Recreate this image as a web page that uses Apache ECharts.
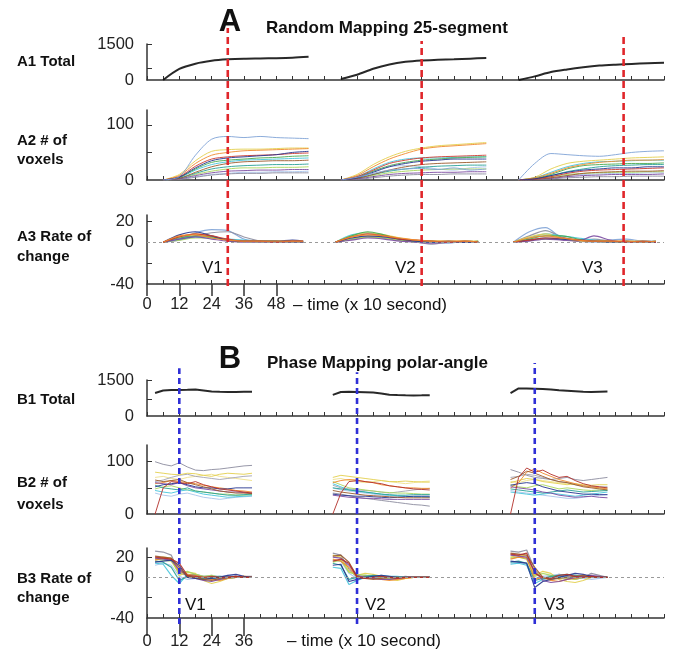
<!DOCTYPE html>
<html><head><meta charset="utf-8">
<script src="https://cdn.jsdelivr.net/npm/echarts@6/dist/echarts.min.js"></script>
<style>html,body{margin:0;padding:0;background:#fff}#c{width:681px;height:650px}</style>
</head><body><div id="c"></div>
<script>
// ---------- time bases (x 10 s) ----------
const aTimes = [[6,12,18,24,30,36,42,48,54,60],[72,78,84,90,96,102,108,114,120,126],[138,144,150,156,162,168,174,180,186,192]];
const aRateTimes = [[6,12,18,24,30,36,42,48,54,58],[70,76,82,88,94,100,106,112,118,123],[136,142,148,154,160,166,172,178,184,189]];
const bTimes = [[3,6,9,12,15,18,21,24,27,30,33,36,39],[69,72,75,78,81,84,87,90,93,96,99,102,105],[135,138,141,144,147,150,153,156,159,162,165,168,171]];

// ---------- tick labels ----------
const xTickLabelsA = [0,12,24,36,48];
const xTickLabelsB = [0,12,24,36];
const yLabelsTotal = [0,1500];
const yTicksA1 = [500,1500];
const yTicksB1 = [700,1500];
const yLabelsVox = [0,100];
const yTicksVox = [50,100];
const yLabelsRate = [-40,0,20];
const yTicksRate = [-20,20];

// ---------- visual area markers ----------
const vLinesA = [30,102,177];
const vTopsA = [1,0.95,0.98];
const vLinesB = [12,78,144];
const vTopsB = [0.98,0.965,1];

// ---------- A1 total ----------
const a1Total = [0,460,680,800,860,890,900,910,930,970, 40,220,470,650,760,815,840,860,890,915, 0,150,330,440,530,600,640,670,695,715];

// ---------- A2 # of voxels ----------
const a2Steel  = [0,6,45,74,79,77,79,77,76,75, 0,5,12,18,20,21,19,22,18,20, 0,30,48,46,44,43,46,50,52,53];
const a2Yellow = [0,10,35,52,55,56,56,57,58,58, 0,10,28,42,52,58,62,64,66,68, 0,5,20,30,34,36,38,40,41,42];
const a2Orange = [0,8,30,45,50,53,54,55,56,57, 0,8,24,38,48,56,60,62,64,66, 0,4,12,22,28,32,34,36,36,37];
const a2Navy   = [0,5,22,35,40,42,44,46,50,52, 0,4,14,24,30,34,36,38,38,38, 0,2,8,14,18,20,22,22,24,24];
const a2Red    = [0,6,25,38,42,44,45,46,48,49, 0,6,18,30,36,40,42,43,44,45, 0,2,6,12,16,18,19,20,21,22];
const a2Green  = [0,5,20,32,36,38,40,41,43,44, 0,5,16,26,32,36,38,40,41,42, 0,3,10,20,26,28,29,30,30,31];
const a2Cyan   = [0,4,18,28,33,36,37,38,39,40, 0,6,20,32,38,40,40,41,42,42, 0,4,14,24,30,33,34,35,36,36];
const a2Brown  = [0,3,14,24,30,33,34,35,35,36, 0,3,10,18,24,28,30,31,32,33, 0,1,4,8,12,14,15,16,16,17];
const a2Teal   = [0,3,12,20,24,26,27,28,28,29, 0,3,10,16,20,23,25,26,27,27, 0,2,8,15,20,24,26,27,28,28];
const a2Lime   = [0,2,10,16,20,22,22,23,23,24, 0,2,8,13,16,18,19,20,20,20, 0,2,6,10,12,13,14,14,15,15];
const a2Purple = [0,2,8,13,16,17,18,18,19,19, 0,2,6,10,12,13,14,14,15,15, 0,1,3,6,8,9,10,10,10,11];
const a2Gray   = [0,1,5,9,11,12,12,13,13,13, 0,1,4,7,9,10,10,11,11,11, 0,1,2,4,5,6,6,7,7,7];
const a2Sky    = [0,2,6,10,12,14,14,15,15,16, 0,4,16,24,26,24,20,18,22,24, 0,1,4,8,10,11,12,12,13,13];

// ---------- A3 rate of change ----------
const a3Steel  = [0,3,9,12,11,3,1,1,0,1, 0,3,5,4,2,1,0,-1,1,0, 0,10,14,4,1,0,2,3,1,1];
const a3Yellow = [0,5,8,6,2,1,1,1,1,0, 0,6,9,7,4,2,1,1,1,1, 0,5,8,4,1,1,1,1,1,0];
const a3Orange = [0,6,7,4,2,1,1,1,1,1, 0,5,7,6,4,2,1,1,1,0, 0,4,6,4,2,1,1,1,0,1];
const a3Navy   = [0,7,10,6,2,1,1,1,2,1, 0,4,6,5,3,1,0,1,0,0, 0,2,4,3,2,1,0,1,0,0];
const a3Red    = [0,5,8,6,3,1,1,0,1,1, 0,5,8,6,3,2,1,0,1,0, 0,2,4,4,2,1,1,0,1,0];
const a3Green  = [0,4,6,5,2,1,1,1,0,0, 0,6,10,7,3,1,1,0,0,1, 0,3,6,6,3,1,1,0,0,1];
const a3Cyan   = [0,3,5,4,3,2,1,0,1,0, 0,7,9,6,3,1,0,0,1,0, 0,4,8,6,4,2,1,0,1,0];
const a3Gray   = [0,2,6,9,10,5,1,0,0,0, 0,3,5,4,2,0,-2,0,0,0, 0,6,11,5,2,3,1,0,0,0];
const a3Lime   = [0,2,4,4,3,1,0,0,0,0, 0,3,5,4,2,1,0,0,0,0, 0,2,3,3,2,1,0,0,0,0];
const a3Purple = [0,3,5,3,1,0,0,0,0,0, 0,2,4,3,1,0,-1,0,0,0, 0,1,3,2,1,6,2,0,0,0];

// ---------- B1 total ----------
const b1Total = [960,1060,1080,1085,1090,1100,1060,1020,1010,1005,1005,1010,1010,
                 880,1000,1010,1000,990,975,940,890,870,862,858,860,865,
                 950,1150,1150,1140,1125,1100,1070,1050,1030,1010,1005,1015,1025];

// ---------- B2 # of voxels ----------
const b2Gray   = [100,95,92,98,90,84,83,85,86,88,90,92,93, 40,38,35,32,30,28,26,24,22,20,18,17,15, 85,80,74,70,68,66,68,70,66,64,66,68,70];
const b2Yellow = [80,78,76,75,78,77,74,72,76,78,77,76,78, 70,74,72,70,68,66,64,62,62,63,62,61,61, 60,64,68,66,62,60,58,56,58,56,55,56,56];
const b2Gray2  = [62,65,70,74,76,72,70,68,66,68,70,72,73, 55,50,48,46,45,44,42,40,42,44,46,48,49, 70,72,76,74,70,66,62,60,56,54,52,52,52];
const b2Cream  = [70,72,68,66,70,72,74,76,72,70,68,66,64, 66,68,64,62,60,62,64,62,60,58,60,62,63, 62,60,64,66,64,62,60,58,56,54,52,50,50];
const b2Red    = [0,50,62,60,58,62,56,52,48,46,44,42,40, 0,40,62,64,62,60,58,54,52,50,48,47,46, 0,70,88,80,84,76,70,72,64,58,54,52,50];
const b2Orange = [58,60,64,62,60,58,55,52,50,48,45,44,42, 60,64,66,65,62,60,56,54,52,50,50,49,49, 50,60,80,86,78,72,66,62,58,54,52,50,48];
const b2Navy   = [52,56,58,60,56,52,50,50,48,48,50,50,50, 38,36,35,34,34,33,32,31,32,33,34,34,34, 55,58,60,58,52,48,44,42,40,38,38,37,37];
const b2Cyan   = [45,42,40,44,46,42,38,36,34,32,33,34,35, 58,52,46,44,42,40,38,36,35,34,33,33,32, 42,40,38,36,38,40,38,36,34,36,38,40,42];
const b2Teal   = [55,50,48,46,50,44,42,40,38,36,36,37,38, 50,48,46,44,42,40,38,37,36,36,37,37,37, 48,46,44,42,40,42,44,46,44,42,43,44,45];
const b2Lime   = [48,52,54,50,46,44,42,40,38,38,36,36,37, 62,56,50,48,46,44,42,41,40,40,39,38,38, 56,52,50,54,56,52,48,50,48,46,45,46,46];
const b2Purple = [60,58,56,60,54,50,48,46,44,42,42,41,40, 36,34,32,31,30,30,29,28,28,28,28,28,28, 52,50,48,46,42,40,36,34,32,33,34,32,31];
const b2Brown  = [65,62,64,66,60,56,52,48,44,42,40,40,39, 45,42,40,38,36,35,34,33,32,31,31,31,31, 66,72,82,78,72,66,62,60,56,52,50,48,46];
const b2Sky    = [40,36,34,38,40,36,32,30,28,30,32,33,34, 50,46,44,42,40,38,36,35,34,34,33,33,33, 45,42,40,38,36,34,32,30,30,32,34,36,37];

// ---------- B3 rate of change ----------
const b3Gray   = [26,25,22,4,2,3,1,-1,0,1,0,1,1, 24,22,8,0,2,1,0,-1,0,1,0,0,0, 26,25,27,8,-2,0,3,1,-2,0,4,2,0];
const b3Yellow = [18,20,19,2,5,4,-3,-6,-4,-1,0,1,0, 22,20,6,2,4,3,1,-2,-3,-1,0,0,0, 20,22,21,2,6,4,-2,-4,-5,-3,0,1,0];
const b3Orange = [17,19,18,6,3,2,0,-2,-3,-1,0,1,0, 18,16,10,1,0,-1,-2,-3,-2,-1,0,0,0, 18,20,19,-2,0,-3,-4,-2,-1,0,1,0,0];
const b3Red    = [20,19,18,14,2,1,0,1,0,0,1,0,0, 16,18,14,0,-1,0,1,0,-1,0,0,0,0, 23,22,24,4,0,-1,2,3,1,0,1,0,0];
const b3Navy   = [15,16,17,12,0,-1,-2,-1,0,2,3,1,0, 12,13,-4,-2,0,1,2,1,0,0,0,0,0, 16,15,14,-10,-4,-2,0,2,4,3,1,0,0];
const b3Cyan   = [14,13,2,-6,3,2,0,-1,-2,-1,0,0,0, 10,9,-7,-3,0,1,2,1,1,0,0,0,0, 13,14,12,-6,-2,0,1,0,-1,0,1,0,0];
const b3Teal   = [16,15,10,-3,1,0,-1,0,1,0,0,0,0, 14,12,-2,0,1,2,1,0,0,0,0,0,0, 15,16,14,-3,-1,1,2,3,2,1,0,0,0];
const b3Lime   = [18,17,16,4,6,3,1,2,0,-1,0,0,0, 15,17,5,3,2,1,0,-1,-1,0,0,0,0, 19,20,18,1,4,2,0,-1,-2,0,1,0,0];
const b3Purple = [19,18,17,8,1,-1,-3,-4,-2,0,1,0,0, 20,19,12,2,0,-1,-2,-2,-1,0,0,0,0, 22,21,20,6,-3,-5,-4,-2,0,1,2,1,0];
const b3Brown  = [21,20,19,10,1,0,-2,-3,-1,0,1,0,0, 21,22,15,1,-1,-2,-1,0,0,0,0,0,0, 24,23,22,10,0,-2,-1,0,1,2,0,0,0];
const b3Sky    = [12,14,12,1,-2,-1,1,2,1,2,1,0,0, 17,16,4,-1,1,2,0,-1,0,0,0,0,0, 14,15,13,-1,1,2,3,2,0,-1,-2,-1,0];

// ---------- styles ----------
const FONT = "'Liberation Sans', Arial, Helvetica, sans-serif";
const C = {steel:'#7fa3d6', yellow:'#e3cf4e', orange:'#ef8a2c', navy:'#26348f', red:'#cc3a2f', green:'#4aa84e',
  cyan:'#45c4dc', brown:'#9a5a2c', teal:'#27a096', lime:'#a8d65c', purple:'#7b4aa1', gray:'#8c8c9e', sky:'#a9c4ea',
  gray2:'#a3a3b3', cream:'#eee08c'};

function build(times, vals){
  const out=[]; let k=0;
  times.forEach((t,si)=>{ if(si>0) out.push([t[0]-3,null]); t.forEach(x=>out.push([x, vals[k++]])); });
  return out;
}

const grids = [
  {left:147, width:517, top:44, height:36},   // A1
  {left:147, width:517, top:110, height:70},  // A2
  {left:147, width:517, top:215, height:69},  // A3
  {left:147, width:517, top:380, height:36},  // B1
  {left:147, width:517, top:445, height:69},  // B2
  {left:147, width:517, top:548, height:70},  // B3
  {left:147, width:517, top:28, height:258},  // overlay A
  {left:147, width:517, top:363, height:261}  // overlay B
];

const axisCol = '#333';
const plain = v => String(v);
const xAxes = [];
for (let g=0; g<6; g++) {
  xAxes.push({type:'value', gridIndex:g, min:0, max:192, interval:6,
    axisLine:{show:true, onZero:false, lineStyle:{color:axisCol, width:1.5}},
    axisTick:{show:true, inside:true, length:4, lineStyle:{color:axisCol, width:1}},
    axisLabel:{show:false}, splitLine:{show:false}});
}
function bottomAxis(g, labels, len, margin){
  return {type:'value', gridIndex:g, min:0, max:192, position:'bottom',
    axisLine:{show:false, onZero:false},
    axisTick:{show:true, inside:false, length:len, customValues:labels, lineStyle:{color:axisCol, width:1.5}},
    axisLabel:{show:true, customValues:labels, margin:margin, formatter:plain, fontFamily:FONT, fontSize:16.5, color:'#222'},
    splitLine:{show:false}};
}
xAxes.push(bottomAxis(2, xTickLabelsA, 12, 12));   // 6
xAxes.push(bottomAxis(5, xTickLabelsB, 18, 15));   // 7
xAxes.push({type:'value', gridIndex:6, min:0, max:192, show:false}); // 8
xAxes.push({type:'value', gridIndex:7, min:0, max:192, show:false}); // 9

function yAx(g, min, max, labels, ticks){
  return {type:'value', gridIndex:g, min:min, max:max,
    axisLine:{show:true, onZero:false, lineStyle:{color:axisCol, width:1.5}},
    axisTick:{show:true, inside:true, length:5, customValues:ticks, lineStyle:{color:axisCol, width:1}},
    axisLabel:{show:true, customValues:labels, margin:13, formatter:plain, fontFamily:FONT, fontSize:16.5, color:'#222'},
    splitLine:{show:false}};
}
const yAxes = [
  yAx(0, 0, 1500, yLabelsTotal, yTicksA1),
  yAx(1, 0, 127, yLabelsVox, yTicksVox),
  yAx(2, -40, 26, yLabelsRate, yTicksRate),
  yAx(3, 0, 1500, yLabelsTotal, yTicksB1),
  yAx(4, 0, 132, yLabelsVox, yTicksVox),
  yAx(5, -40, 29, yLabelsRate, yTicksRate),
  {type:'value', gridIndex:6, min:0, max:1, show:false},
  {type:'value', gridIndex:7, min:0, max:1, show:false}
];

const series = [];
function addLine(ax, times, vals, color, width, smooth, extra){
  series.push(Object.assign({type:'line', xAxisIndex:ax, yAxisIndex:ax, data:build(times, vals),
    symbol:'none', smooth:smooth, connectNulls:false, silent:true,
    lineStyle:{color:color, width:width, opacity:0.9}, z:2}, extra||{}));
}
const zeroLine = {markLine:{silent:true, symbol:'none', label:{show:false},
  lineStyle:{color:'#9a9a9a', type:[3,3], width:1}, data:[{yAxis:0}]}};

// A1
addLine(0, aTimes, a1Total, '#111', 2, 0.3);
// A2
[[a2Sky,C.sky],[a2Lime,C.lime],[a2Gray,C.gray],[a2Yellow,C.yellow],[a2Cyan,C.cyan],[a2Teal,C.teal],[a2Green,C.green],
 [a2Orange,C.orange],[a2Purple,C.purple],[a2Brown,C.brown],[a2Red,C.red],[a2Navy,C.navy],[a2Steel,C.steel]]
 .forEach(p=>addLine(1, aTimes, p[0], p[1], 1, 0.3));
// A3
[[a3Steel,C.steel],[a3Gray,C.gray],[a3Lime,C.lime],[a3Cyan,C.cyan],[a3Yellow,C.yellow],[a3Green,C.green],
 [a3Purple,C.purple],[a3Navy,C.navy],[a3Red,C.red],[a3Orange,C.orange]]
 .forEach((p,i)=>addLine(2, aRateTimes, p[0], p[1], 1.2, 0.3, i===0?zeroLine:null));
// B1
addLine(3, bTimes, b1Total, '#111', 2, false);
// B2
[[b2Cream,C.cream],[b2Gray2,C.gray2],[b2Yellow,C.yellow],[b2Sky,C.sky],[b2Lime,C.lime],[b2Cyan,C.cyan],[b2Teal,C.teal],
 [b2Gray,C.gray],[b2Orange,C.orange],[b2Purple,C.purple],[b2Navy,C.navy],[b2Brown,C.brown],[b2Red,'#b3302a']]
 .forEach(p=>addLine(4, bTimes, p[0], p[1], 1, false));
// B3
[[b3Gray,C.gray],[b3Sky,C.sky],[b3Yellow,C.yellow],[b3Lime,C.lime],[b3Cyan,C.cyan],[b3Teal,C.teal],
 [b3Orange,C.orange],[b3Purple,C.purple],[b3Navy,C.navy],[b3Brown,C.brown],[b3Red,'#b3302a']]
 .forEach((p,i)=>addLine(5, bTimes, p[0], p[1], 1.2, false, i===0?zeroLine:null));

// vertical dashed visual-area lines
vLinesA.forEach((x,i)=>series.push({type:'line', xAxisIndex:8, yAxisIndex:6, data:[[x,0],[x,vTopsA[i]]],
  symbol:'none', silent:true, z:10, lineStyle:{color:'#e0262b', width:2.6, type:[7,4]}}));
vLinesB.forEach((x,i)=>series.push({type:'line', xAxisIndex:9, yAxisIndex:7, data:[[x,0],[x,vTopsB[i]]],
  symbol:'none', silent:true, z:10, lineStyle:{color:'#2f2fd6', width:2.6, type:[6,4]}}));

function txt(x, y, s, size, bold, align){
  return {type:'text', x:x, y:y, z:20, style:{text:s, fontFamily:FONT, fontSize:size,
    fontWeight:bold?'bold':'normal', fill:'#111', align:align||'left', verticalAlign:'middle'}};
}
const graphic = [
  txt(230, 22, 'A', 31, true, 'center'),
  txt(266, 28, 'Random Mapping 25-segment', 17, true),
  txt(230, 359, 'B', 31, true, 'center'),
  txt(267, 363, 'Phase Mapping polar-angle', 17, true),
  txt(17, 62, 'A1 Total', 15, true),
  txt(17, 141, 'A2 # of', 15, true),
  txt(17, 160, 'voxels', 15, true),
  txt(17, 237, 'A3 Rate of', 15, true),
  txt(17, 257, 'change', 15, true),
  txt(17, 400, 'B1 Total', 15, true),
  txt(17, 483, 'B2 # of', 15, true),
  txt(17, 505, 'voxels', 15, true),
  txt(17, 579, 'B3 Rate of', 15, true),
  txt(17, 598, 'change', 15, true),
  txt(293, 305, '\u2013 time (x 10 second)', 17, false),
  txt(287, 641, '\u2013 time (x 10 second)', 17, false),
  txt(202, 268, 'V1', 17, false), txt(395, 268, 'V2', 17, false), txt(582, 268, 'V3', 17, false),
  txt(185, 605, 'V1', 17, false), txt(365, 605, 'V2', 17, false), txt(544, 605, 'V3', 17, false)
];

const chart = echarts.init(document.getElementById('c'), null, {renderer:'canvas'});
chart.setOption({animation:false, backgroundColor:'#fff', grid:grids, xAxis:xAxes, yAxis:yAxes, series:series, graphic:graphic});
</script>
</body></html>
